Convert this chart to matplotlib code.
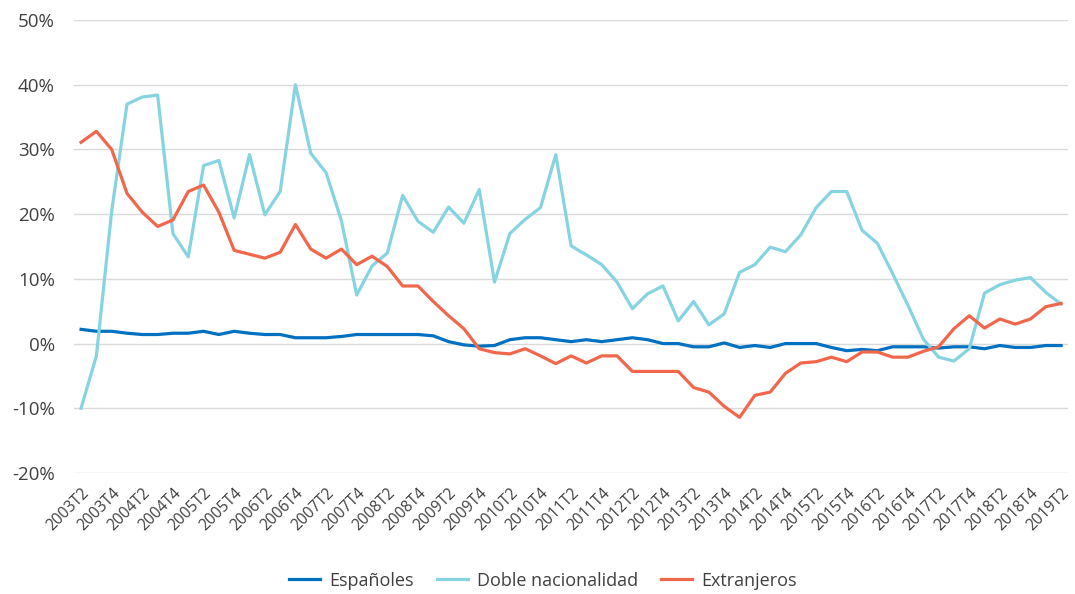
import numpy as np
import matplotlib
matplotlib.use("Agg")
import matplotlib.pyplot as plt

# Variación interanual por nacionalidad, 2003T2 - 2019T2
start_year = 2003
start_quarter = 2
n_quarters = 65

espanoles = [2.2, 1.9, 1.9, 1.6, 1.4, 1.4, 1.6, 1.6, 1.9, 1.4,
             1.9, 1.6, 1.4, 1.4, 0.9, 0.9, 0.9, 1.1, 1.4, 1.4,
             1.4, 1.4, 1.4, 1.2, 0.3, -0.2, -0.4, -0.3, 0.6, 0.9,
             0.9, 0.6, 0.3, 0.6, 0.3, 0.6, 0.9, 0.6, 0.0, 0.0,
             -0.5, -0.5, 0.1, -0.6, -0.3, -0.6, 0.0, 0.0, 0.0, -0.6,
             -1.1, -0.9, -1.1, -0.5, -0.5, -0.5, -0.7, -0.5, -0.5, -0.8,
             -0.3, -0.6, -0.6, -0.3, -0.3]

doble = [-10.0, -1.9, 20.5, 37.0, 38.1, 38.4, 17.0, 13.4, 27.5, 28.3,
         19.4, 29.2, 19.9, 23.5, 40.0, 29.4, 26.4, 19.0, 7.5, 12.0,
         14.0, 22.9, 18.9, 17.2, 21.1, 18.6, 23.8, 9.5, 17.0, 19.2,
         21.0, 29.2, 15.1, 13.7, 12.2, 9.5, 5.4, 7.7, 8.9, 3.5,
         6.5, 2.9, 4.6, 11.0, 12.2, 14.9, 14.2, 16.8, 21.0, 23.5,
         23.5, 17.5, 15.5, 10.8, 5.9, 0.7, -2.1, -2.7, -0.8, 7.8,
         9.1, 9.8, 10.2, 7.9, 6.1]

extranjeros = [31.1, 32.8, 30.0, 23.2, 20.3, 18.1, 19.1, 23.5, 24.5, 20.3,
               14.4, 13.8, 13.2, 14.1, 18.4, 14.6, 13.2, 14.6, 12.2, 13.5,
               11.9, 8.9, 8.9, 6.5, 4.3, 2.3, -0.8, -1.4, -1.6, -0.8,
               -1.9, -3.1, -1.9, -3.0, -1.9, -1.9, -4.3, -4.3, -4.3, -4.3,
               -6.8, -7.5, -9.7, -11.4, -8.0, -7.5, -4.6, -3.0, -2.8, -2.1,
               -2.8, -1.3, -1.3, -2.1, -2.1, -1.2, -0.5, 2.3, 4.3, 2.4,
               3.8, 3.0, 3.8, 5.7, 6.2]

series_names = ["Españoles", "Doble nacionalidad", "Extranjeros"]
colors = ["#0070C0", "#86D3E1", "#F0674C"]

# etiquetas de trimestre: 2003T2, 2003T3, ...
periods = []
for i in range(n_quarters):
    q = start_quarter - 1 + i
    periods.append("%dT%d" % (start_year + q // 4, q % 4 + 1))

plt.rcParams['font.family'] = ['Open Sans', 'DejaVu Sans']
text_color = "#404040"

fig = plt.figure(figsize=(10.75, 5.94), dpi=100)
ax = fig.add_axes([0.069, 0.2037, 0.9245, 0.7626])

x = np.arange(n_quarters)
for values, name, col in zip([espanoles, doble, extranjeros], series_names, colors):
    ax.plot(x, values, color=col, lw=2.3, label=name, solid_joinstyle='round')

ax.set_ylim(-20, 50)
ax.set_xlim(-0.45, n_quarters - 1 + 0.45)
ax.set_yticks(np.arange(-20, 51, 10))
ax.set_yticklabels(["%d%%" % v for v in range(-20, 51, 10)],
                   fontsize=13.5, color=text_color)
ax.set_xticks(x[::2])
ax.set_xticklabels(periods[::2], rotation=45, ha='right',
                   rotation_mode='anchor', fontsize=11.2, color=text_color)
ax.tick_params(axis='both', length=0)
ax.tick_params(axis='y', pad=14)
ax.tick_params(axis='x', pad=9)

ax.grid(axis='y', color='#D9D9D9', lw=1)
ax.set_axisbelow(True)
for s in ax.spines.values():
    s.set_visible(False)

fig.legend(loc='lower center', bbox_to_anchor=(0.505, -0.02), ncol=3,
           frameon=False, fontsize=13, handlelength=1.7, handletextpad=0.5,
           columnspacing=1.3, labelcolor=text_color)

fig.savefig("out.png", dpi=100)
